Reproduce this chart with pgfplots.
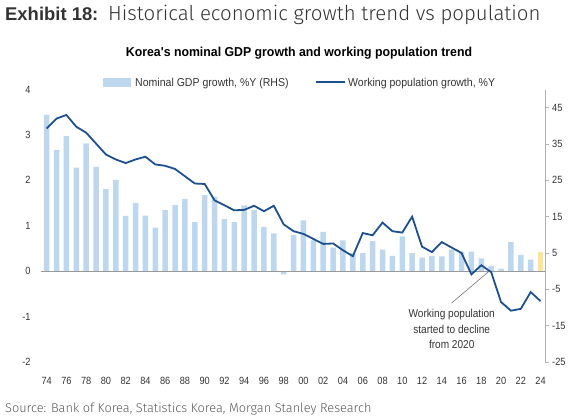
\documentclass[border=0pt]{standalone}
\usepackage{pgfplots}
\pgfplotsset{compat=1.18}
\usepackage{fontspec}
\setmainfont{Liberation Sans}
\newfontfamily\condfont[FakeStretch=0.88]{Liberation Sans}
\newfontfamily\legfont[FakeStretch=0.92]{Liberation Sans}
\newfontfamily\subfont[FakeStretch=0.95]{Liberation Sans}
\newfontfamily\lightfont{Fira Sans Light}
\definecolor{barblue}{RGB}{189,215,238}
\definecolor{baryellow}{RGB}{255,228,150}
\definecolor{lineblue}{RGB}{28,80,145}
\definecolor{txt}{RGB}{51,51,51}
\begin{document}
\begin{tikzpicture}[x=1bp,y=1bp]
\path[use as bounding box] (0,0) rectangle (585,417);
% titles
\node[anchor=base west, inner sep=0, text=txt] at (5,396) {\fontsize{18.5}{21}\selectfont\bfseries Exhibit 18:};
\node[anchor=base west, inner sep=0, text=txt] at (108,396) {\lightfont\fontsize{20.5}{22}\selectfont Historical economic growth trend vs population};
\node[anchor=base, inner sep=0, text=black] at (299,361) {\subfont\bfseries\fontsize{13}{15}\selectfont Korea's nominal GDP growth and working population trend};
% legend
\fill[barblue] (103,330) rectangle (131,339);
\node[anchor=base west, inner sep=0, text=txt] at (135,331) {\legfont\fontsize{11.5}{13}\selectfont Nominal GDP growth, \%Y (RHS)};
\draw[lineblue, line width=1.8bp] (316,335) -- (345,335);
\node[anchor=base west, inner sep=0, text=txt] at (348,331) {\legfont\fontsize{11.5}{13}\selectfont Working population growth, \%Y};
% bars on right axis
\begin{axis}[at={(40.7bp,55bp)}, anchor=south west, scale only axis,
  width=504.3bp, height=272.5bp,
  xmin=1973.4, xmax=2024.45, ymin=-25, ymax=50,
  axis x line=none, axis y line*=right,
  y axis line style={draw=black!30, line width=0.6bp},
  ytick={-25,-15,...,45},
  major tick length=4bp, tick align=outside,
  ytick style={draw=black!30, line width=0.6bp},
  yticklabel style={font=\condfont\fontsize{10.5}{12}\selectfont, text=txt, anchor=west, inner sep=0pt, xshift=3bp},
  /pgf/number format/assume math mode=true,
  clip=false]
\addplot[ybar, bar shift=0pt, bar width=5.5bp, fill=barblue, draw=none] coordinates {
(1974,43.0) (1975,33.3) (1976,37.2) (1977,28.5) (1978,35.2) (1979,28.7)
(1980,22.6) (1981,25.1) (1982,15.2) (1983,18.7) (1984,15.3) (1985,12.0)
(1986,16.8) (1987,18.2) (1988,19.9) (1989,13.5) (1990,20.9) (1991,20.5)
(1992,14.3) (1993,13.5) (1994,18.1) (1995,16.9) (1996,12.2) (1997,10.4)
(1998,-0.9) (1999,10.0) (2000,14.0) (2001,8.5) (2002,10.8) (2003,6.5)
(2004,8.5) (2005,5.0) (2006,5.0) (2007,8.3) (2008,5.9) (2009,4.2)
(2010,9.6) (2011,5.0) (2012,3.7) (2013,4.2) (2014,4.1) (2015,5.9)
(2016,5.4) (2017,5.4) (2018,3.5) (2019,1.4) (2020,0.7) (2021,8.0)
(2022,4.5) (2023,3.2)};
\addplot[ybar, bar shift=0pt, bar width=5.5bp, fill=baryellow, draw=none] coordinates {(2024,5.2)};
\end{axis}
% line on left axis
\begin{axis}[at={(40.7bp,55bp)}, anchor=south west, scale only axis,
  width=504.3bp, height=272.5bp,
  xmin=1973.4, xmax=2024.45, ymin=-2, ymax=4,
  axis x line*=bottom, axis y line*=left,
  x axis line style={draw=none}, y axis line style={draw=none},
  ytick={-2,-1,...,4}, major tick length=0pt,
  xtick={1974,1976,...,2024},
  xticklabels={74,76,78,80,82,84,86,88,90,92,94,96,98,00,02,04,06,08,10,12,14,16,18,20,22,24},
  xticklabel style={font=\condfont\fontsize{10.5}{12}\selectfont, text=txt, anchor=north, inner sep=0pt, yshift=-15bp},
  yticklabel style={font=\condfont\fontsize{10.5}{12}\selectfont, text=txt, anchor=east, inner sep=0pt, xshift=-10bp},
  /pgf/number format/assume math mode=true,
  clip=false]
\draw[black!40, line width=0.9bp] (axis cs:1973.4,0) -- (axis cs:2024.45,0);
\addplot[lineblue, line width=1.8bp, mark=none] coordinates {
(1974,3.14) (1975,3.36) (1976,3.44) (1977,3.18) (1978,3.05) (1979,2.81)
(1980,2.57) (1981,2.46) (1982,2.38) (1983,2.46) (1984,2.52) (1985,2.35)
(1986,2.32) (1987,2.25) (1988,2.09) (1989,1.93) (1990,1.92) (1991,1.56)
(1992,1.45) (1993,1.34) (1994,1.35) (1995,1.44) (1996,1.32) (1997,1.44)
(1998,1.03) (1999,0.88) (2000,0.82) (2001,0.71) (2002,0.60) (2003,0.61)
(2004,0.46) (2005,0.33) (2006,0.84) (2007,0.79) (2008,1.07) (2009,0.88)
(2010,0.85) (2011,1.20) (2012,0.54) (2013,0.42) (2014,0.64) (2015,0.52)
(2016,0.40) (2017,-0.07) (2018,0.13) (2019,-0.02) (2020,-0.68) (2021,-0.87)
(2022,-0.83) (2023,-0.46) (2024,-0.66)};
\draw[black!55, line width=0.6bp] (axis cs:2015.0,-0.70) -- (axis cs:2018.8,0);
\end{axis}
% annotation
\node[align=center, inner sep=0, text=txt, font=\condfont\fontsize{11.5}{15.5}\selectfont] at (451.7,88) {Working population\\started to decline\\from 2020};
% source
\node[anchor=base west, inner sep=0, text=black!65] at (5,5) {\lightfont\fontsize{12.8}{14}\selectfont Source: Bank of Korea, Statistics Korea, Morgan Stanley Research};
\end{tikzpicture}
\end{document}
